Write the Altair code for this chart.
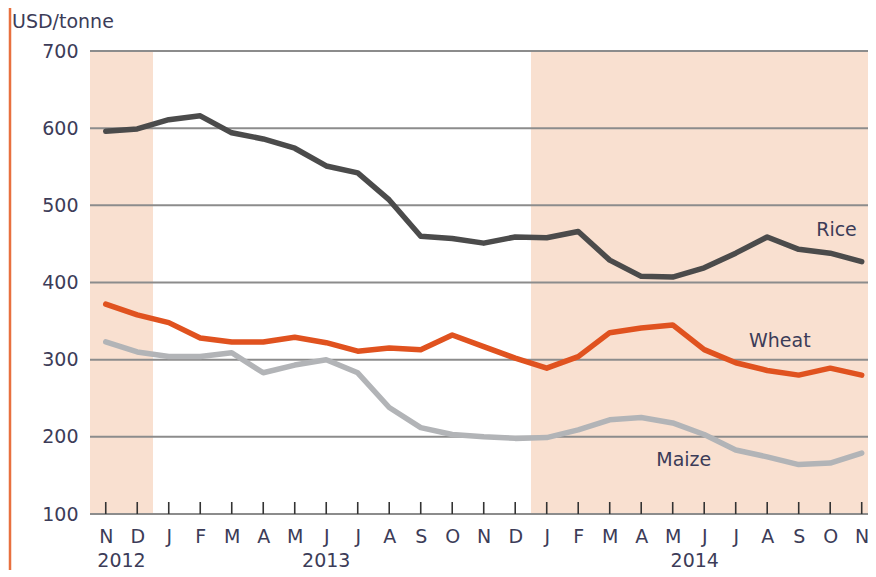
import altair as alt
import pandas as pd

months = ["N", "D", "J", "F", "M", "A", "M", "J", "J", "A", "S", "O", "N",
          "D", "J", "F", "M", "A", "M", "J", "J", "A", "S", "O", "N"]
rice = [596, 599, 611, 616, 594, 586, 574, 551, 542, 507, 460, 457, 451,
        459, 458, 466, 429, 408, 407, 419, 438, 459, 443, 438, 427]
wheat = [372, 358, 348, 328, 323, 323, 329, 322, 311, 315, 313, 332, 317,
         302, 289, 304, 335, 341, 345, 313, 296, 286, 280, 289, 280]
maize = [323, 310, 304, 304, 309, 283, 293, 300, 283, 238, 212, 203, 200,
         198, 199, 209, 222, 225, 218, 203, 183, 174, 164, 166, 179]
y_ticks = [100, 200, 300, 400, 500, 600, 700]
years = ["2012", "2013", "2014"]
year_pos = [0.5, 7.0, 18.7]
shade_start = [-0.5, 13.5]
shade_end = [1.5, 24.2]
series_names = ["Rice", "Wheat", "Maize"]
series_label_x = [23.2, 21.4, 18.35]
series_label_y = [468, 324, 170]
colors = ["#4b4b4b", "#e0521f", "#b2b4b7"]

W, H = 778, 463
FONT = "DejaVu Sans"
TXT = "#3c3c58"

rows = []
for name, vals in zip(series_names, [rice, wheat, maize]):
    for i, v in enumerate(vals):
        rows.append({"idx": i, "value": v, "series": name})
df = pd.DataFrame(rows)

xscale = alt.Scale(domain=[-0.5, 24.2], nice=False, zero=False)
yscale = alt.Scale(domain=[100, 700], nice=False, zero=False)
label_expr = "[" + ",".join("'%s'" % m for m in months) + "][datum.value]"

xaxis = alt.Axis(
    values=list(range(len(months))), labelExpr=label_expr, title=None,
    ticks=False, domain=False, grid=False, labelFont=FONT, labelFontSize=19,
    labelColor=TXT, labelPadding=13, labelFlush=False, labelOverlap=False,
    labelBound=False)
yaxis = alt.Axis(
    values=y_ticks, title=None, ticks=False, domain=False, grid=False,
    labelFont=FONT, labelFontSize=19, labelColor=TXT, labelPadding=12,
    labelOverlap=False)

shade = alt.Chart(pd.DataFrame({"s": shade_start, "e": shade_end})).mark_rect(
    color="#f9e0d0"
).encode(
    x=alt.X("s:Q", scale=xscale, axis=xaxis),
    x2="e:Q",
    y=alt.value(0),
    y2=alt.value(H),
)

grid = alt.Chart(pd.DataFrame({"v": y_ticks})).mark_rule(
    color="#8c8c8c", strokeWidth=2
).encode(
    y=alt.Y("v:Q", scale=yscale, axis=yaxis),
    x=alt.value(0),
    x2=alt.value(W),
)

ticks = alt.Chart(pd.DataFrame({"idx": list(range(len(months)))})).mark_rule(
    color="#333333", strokeWidth=1.6
).encode(
    x=alt.X("idx:Q", scale=xscale, axis=xaxis),
    y=alt.value(H - 12),
    y2=alt.value(H),
)

lines = alt.Chart(df).mark_line(strokeWidth=5.5, strokeCap="round", strokeJoin="round").encode(
    x=alt.X("idx:Q", scale=xscale, axis=xaxis),
    y=alt.Y("value:Q", scale=yscale, axis=yaxis),
    color=alt.Color("series:N", scale=alt.Scale(domain=series_names, range=colors), legend=None),
    detail="series:N",
)

labels = alt.Chart(pd.DataFrame({"t": series_names, "x": series_label_x, "y": series_label_y})).mark_text(
    font=FONT, fontSize=19, color=TXT, align="center", baseline="middle"
).encode(
    x=alt.X("x:Q", scale=xscale, axis=xaxis),
    y=alt.Y("y:Q", scale=yscale, axis=yaxis),
    text="t:N",
)

year_labels = alt.Chart(pd.DataFrame({"t": years, "x": year_pos})).mark_text(
    font=FONT, fontSize=19, color=TXT, align="center", baseline="middle"
).encode(
    x=alt.X("x:Q", scale=xscale, axis=xaxis),
    y=alt.value(H + 47),
    text="t:N",
)

unit = alt.Chart(pd.DataFrame({"t": ["USD/tonne"]})).mark_text(
    font=FONT, fontSize=19, color=TXT, align="left", baseline="middle"
).encode(
    x=alt.value(-78),
    y=alt.value(-29),
    text="t:N",
)

border = alt.Chart(pd.DataFrame({"a": [0]})).mark_rule(color="#e8703f", strokeWidth=2.5).encode(
    x=alt.value(-80),
    y=alt.value(-43),
    y2=alt.value(H + 56),
)

chart = alt.layer(shade, grid, ticks, lines, labels, year_labels, unit, border).properties(
    width=W, height=H,
    autosize=alt.AutoSizeParams(type="none"),
    padding={"left": 82, "top": 43, "right": 0, "bottom": 56},
).configure_view(stroke=None).configure_axisX(labelOverlap=False)

chart.save("out.html", embed_options={"renderer": "svg", "actions": False})
